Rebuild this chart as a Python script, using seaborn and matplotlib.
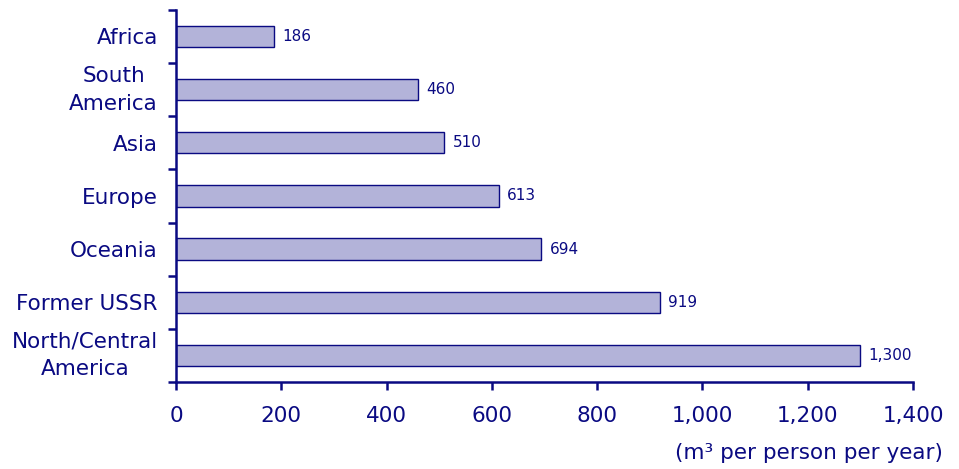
import matplotlib
matplotlib.use("Agg")
import matplotlib.pyplot as plt
from matplotlib.ticker import FuncFormatter, FixedLocator
import seaborn as sns
import pandas as pd

regions = ["Africa", "South\nAmerica", "Asia", "Europe", "Oceania",
           "Former USSR", "North/Central\nAmerica"]
use_per_person = [186, 460, 510, 613, 694, 919, 1300]
x_ticks = [0, 200, 400, 600, 800, 1000, 1200, 1400]

navy = "#0a0a82"
bar_fill = "#b3b3d9"

sns.set_theme(style="white")
plt.rcParams["font.family"] = ["DejaVu Sans"]

df = pd.DataFrame({"region": regions, "value": use_per_person})

fig = plt.figure(figsize=(9.59, 4.69), dpi=100)
ax = fig.add_axes([0.1835, 0.1855, 0.952 - 0.1835, 0.979 - 0.1855])

sns.barplot(data=df, y="region", x="value", orient="h", width=0.4,
            color=bar_fill, saturation=1, edgecolor=navy, linewidth=1.0, ax=ax)

ax.set_xlim(0, 1400)
ax.set_ylim(len(regions) - 0.5, -0.5)
ax.xaxis.set_major_locator(FixedLocator(x_ticks))
ax.xaxis.set_major_formatter(FuncFormatter(lambda v, p: f"{v:,.0f}"))

# category boundary ticks on the vertical axis
ax.yaxis.set_minor_locator(FixedLocator([i - 0.5 for i in range(len(regions) + 1)]))
ax.tick_params(axis="y", which="major", length=0, pad=13, labelsize=15.5, labelcolor=navy)
ax.tick_params(axis="y", which="minor", length=6, width=1.8, color=navy, direction="out", left=True)
ax.tick_params(axis="x", which="major", length=6, width=1.8, color=navy, direction="out",
               bottom=True, pad=11, labelsize=15.5, labelcolor=navy)
for lab in ax.get_yticklabels():
    if "\n" in lab.get_text():
        lab.set_multialignment("center")
        lab.set_linespacing(1.5)
        lab.set_verticalalignment("center")

for side in ("top", "right"):
    ax.spines[side].set_visible(False)
for side in ("left", "bottom"):
    ax.spines[side].set_color(navy)
    ax.spines[side].set_linewidth(1.8)

for i, v in enumerate(use_per_person):
    ax.annotate(f"{v:,}", xy=(v, i), xytext=(6, 0), textcoords="offset points",
                va="center", ha="left", fontsize=11, color=navy)

ax.set_xlabel("")
ax.set_ylabel("")
fig.text(0.983, 0.035, "(m³ per person per year)", ha="right", va="center",
         fontsize=15.5, color=navy)

fig.savefig("out.png", dpi=100)
